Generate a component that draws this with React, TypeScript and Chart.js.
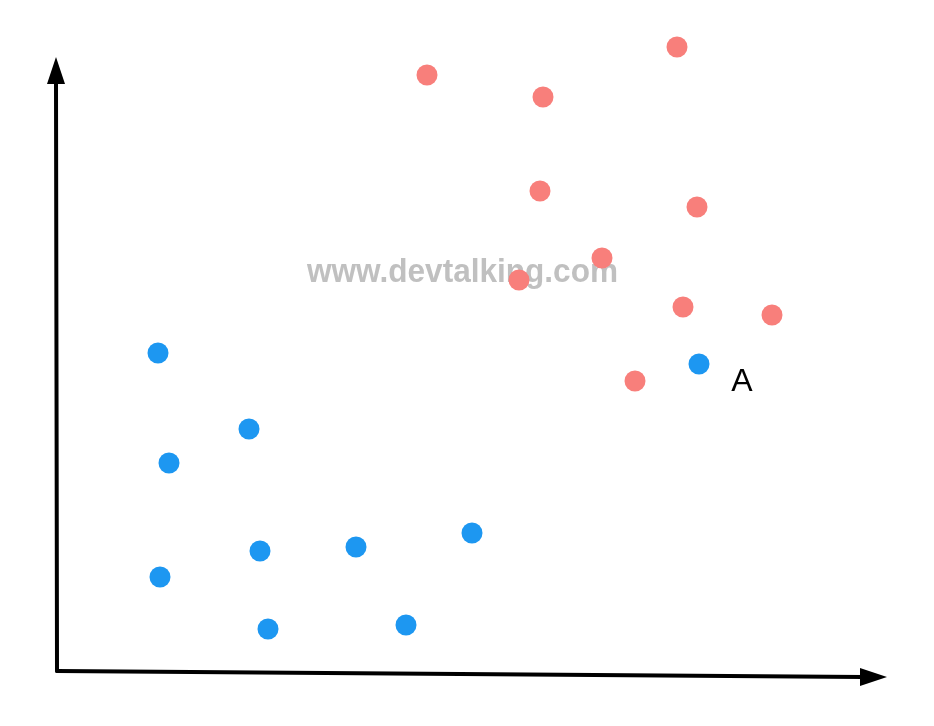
import React, { useEffect, useRef } from "react";
import { Chart, registerables } from "chart.js";

Chart.register(...registerables);

// Data (units: horizontal / vertical distance from origin)
const redX = [370, 486, 620, 483, 640, 545, 462, 626, 715, 578];
const redY = [596, 574, 624, 480, 464, 413, 391, 364, 356, 290];
const blueX = [101, 642, 192, 112, 415, 299, 203, 103, 349, 211];
const blueY = [318, 307, 242, 208, 138, 124, 120, 94, 46, 42];

const labelText = "A";
const labelPos = { x: 685, y: 289 };
const watermark = "www.devtalking.com";
const watermarkPos = { x: 405.5, y: 389 };
const watermarkWidth = 311;

const xAxisEnd = { x: 830, y: -6 };
const yAxisEnd = { x: -1, y: 614 };

const decorPlugin = {
  id: "decor",
  beforeDatasetsDraw(chart: any) {
    const { ctx, scales } = chart;
    const xs = scales.x, ys = scales.y;
    ctx.save();
    ctx.fillStyle = "rgba(165,165,165,0.7)";
    ctx.font = "bold 34px 'Liberation Sans', Arial, sans-serif";
    ctx.textAlign = "center";
    ctx.textBaseline = "alphabetic";
    const w = ctx.measureText(watermark).width;
    const cx = xs.getPixelForValue(watermarkPos.x);
    const cy = ys.getPixelForValue(watermarkPos.y);
    ctx.translate(cx, cy);
    ctx.scale(watermarkWidth / w, 1);
    ctx.fillText(watermark, 0, 0);
    ctx.restore();
  },
  afterDatasetsDraw(chart: any) {
    const { ctx, scales } = chart;
    const xs = scales.x, ys = scales.y;
    const ox = xs.getPixelForValue(0), oy = ys.getPixelForValue(0);
    const yx = xs.getPixelForValue(yAxisEnd.x), yy = ys.getPixelForValue(yAxisEnd.y);
    const xx = xs.getPixelForValue(xAxisEnd.x), xy = ys.getPixelForValue(xAxisEnd.y);
    ctx.save();
    ctx.strokeStyle = "#000";
    ctx.fillStyle = "#000";
    ctx.lineWidth = 4;
    ctx.lineCap = "round";
    // y axis
    ctx.beginPath();
    ctx.moveTo(ox, oy);
    ctx.lineTo(yx, yy + 24);
    ctx.stroke();
    ctx.beginPath();
    ctx.moveTo(yx, yy);
    ctx.lineTo(yx - 9, yy + 27);
    ctx.lineTo(yx + 9, yy + 27);
    ctx.closePath();
    ctx.fill();
    // x axis
    ctx.beginPath();
    ctx.moveTo(ox, oy);
    ctx.lineTo(xx - 24, xy);
    ctx.stroke();
    ctx.beginPath();
    ctx.moveTo(xx, xy);
    ctx.lineTo(xx - 27, xy - 9);
    ctx.lineTo(xx - 27, xy + 9);
    ctx.closePath();
    ctx.fill();
    // label
    ctx.font = "32px 'Liberation Sans', Arial, sans-serif";
    ctx.textAlign = "center";
    ctx.textBaseline = "middle";
    ctx.fillText(labelText, xs.getPixelForValue(labelPos.x), ys.getPixelForValue(labelPos.y));
    ctx.restore();
  },
};

export default function App() {
  const ref = useRef<HTMLCanvasElement>(null);
  useEffect(() => {
    if (!ref.current) return;
    const chart = new Chart(ref.current, {
      type: "scatter",
      data: {
        datasets: [
          {
            label: "red",
            data: redX.map((x, i) => ({ x, y: redY[i] })),
            backgroundColor: "#F87F7B",
            borderWidth: 0,
            pointRadius: 10.5,
          },
          {
            label: "blue",
            data: blueX.map((x, i) => ({ x, y: blueY[i] })),
            backgroundColor: "#1D97F1",
            borderWidth: 0,
            pointRadius: 10.5,
          },
        ],
      },
      options: {
        responsive: false,
        animation: false,
        layout: { padding: 0, autoPadding: false },
        plugins: { legend: { display: false }, tooltip: { enabled: false } },
        scales: {
          x: { type: "linear", min: -57, max: 877, display: false },
          y: { type: "linear", min: -55, max: 671, display: false },
        },
      },
      plugins: [decorPlugin],
    });
    return () => chart.destroy();
  }, []);
  return (
    <div style={{ position: "fixed", left: 0, top: 0, width: 934, height: 726, background: "#fff" }}>
      <canvas ref={ref} width={934} height={726} />
    </div>
  );
}
